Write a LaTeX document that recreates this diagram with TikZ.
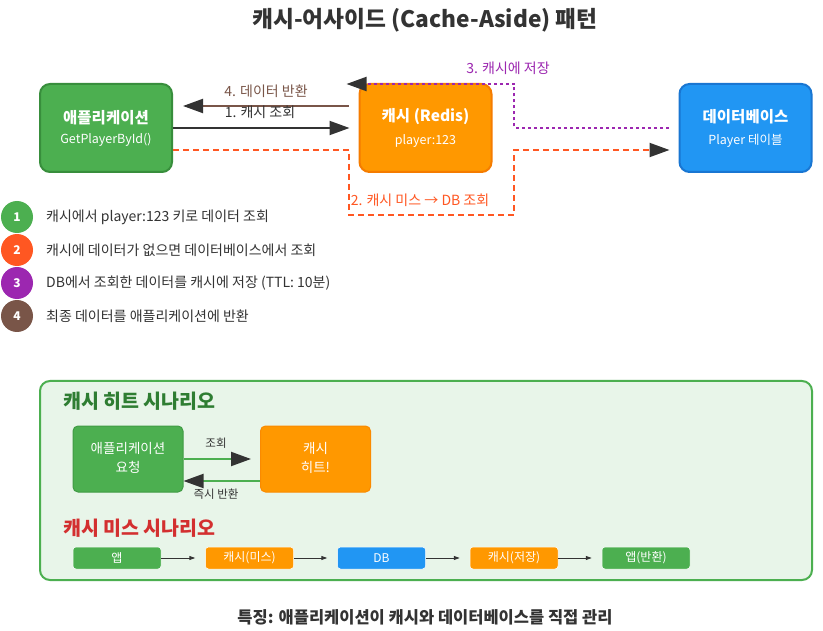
\documentclass[tikz,border=0pt]{standalone}
\usepackage{fontspec}
\setmainfont{Noto Sans CJK KR}
\usetikzlibrary{arrows.meta}
\definecolor{cgreen}{HTML}{4CAF50}
\definecolor{cgreenB}{HTML}{388E3C}
\definecolor{corange}{HTML}{FF9800}
\definecolor{corangeB}{HTML}{F57C00}
\definecolor{cblue}{HTML}{2196F3}
\definecolor{cblueB}{HTML}{1976D2}
\definecolor{cred}{HTML}{FF5722}
\definecolor{cpurple}{HTML}{9C27B0}
\definecolor{cbrown}{HTML}{795548}
\definecolor{cdark}{HTML}{333333}
\definecolor{cpanel}{HTML}{E8F5E9}
\definecolor{cpanelT}{HTML}{2E7D32}
\definecolor{cmissT}{HTML}{D32F2F}
\tikzset{
  bigbox/.style={rounded corners=10pt, line width=2pt, minimum width=132pt, minimum height=88pt, inner sep=0pt},
  hitbox/.style={rounded corners=5pt, line width=1pt, minimum width=110pt, minimum height=66pt, inner sep=0pt},
  smallbox/.style={rounded corners=3pt, draw=white, line width=0.5pt, minimum width=88pt, minimum height=22pt, inner sep=0pt, text=white, font=\fontsize{12}{14}\selectfont},
  boxtitle/.style={text=white, font=\fontsize{15.5}{18}\selectfont\bfseries, inner sep=0pt},
  boxsub/.style={text=white, font=\fontsize{12.5}{15}\selectfont, inner sep=0pt},
  hitsub/.style={text=white, font=\fontsize{13.5}{16}\selectfont, inner sep=0pt},
  lbl/.style={font=\fontsize{14}{17}\selectfont, inner sep=0pt},
  bigtip/.style={-{Triangle[length=20pt,width=14pt,color=cdark]}},
  smalltip/.style={-{Triangle[length=6pt,width=4pt,color=cdark]}},
  legcirc/.style={circle, minimum size=32pt, inner sep=0pt, text=white, font=\fontsize{12}{14}\selectfont\bfseries},
  legtext/.style={anchor=west, text=cdark, font=\fontsize{14}{17}\selectfont, inner sep=0pt},
}
\begin{document}
\begin{tikzpicture}[x=1pt,y=-1pt]
\useasboundingbox (0,0) rectangle (823,631);
\fill[white] (0,0) rectangle (823,631);
% title
\node[text=cdark, font=\fontsize{22.7}{27}\selectfont\bfseries, inner sep=0pt] (title) at (425,20) {캐시-어사이드 (Cache-Aside) 패턴};
% main boxes
\node[bigbox, fill=cgreen, draw=cgreenB] (app) at (106,128) {};
\node[boxtitle] (appT) at (106,118) {애플리케이션};
\node[boxsub] (appS) at (106,140) {GetPlayerById()};
\node[bigbox, fill=corange, draw=corangeB] (cache) at (425.5,128) {};
\node[boxtitle] (cacheT) at (425.5,117) {캐시 (Redis)};
\node[boxsub] (cacheS) at (425.5,141) {player:123};
\node[bigbox, fill=cblue, draw=cblueB] (db) at (745.5,128) {};
\node[boxtitle] (dbT) at (745.5,117) {데이터베이스};
\node[boxsub] (dbS) at (745.5,141) {Player 테이블};
% arrow 4
\draw[cbrown, line width=2pt, bigtip] ([xshift=-10pt,yshift=22pt]cache.west) -- ([xshift=10pt,yshift=22pt]app.east);
\node[lbl, text=cbrown] (l4) at (266,91) {4. 데이터 반환};
% arrow 1
\draw[cdark, line width=2pt, bigtip] (app.east) -- ([xshift=-9pt]cache.west);
\node[lbl, text=cdark] (l1) at (260,112) {1. 캐시 조회};
% arrow 2
\coordinate (m2a) at (349,215);
\coordinate (m2b) at (514,215);
\draw[cred, line width=2pt, dash pattern=on 6pt off 4pt, bigtip]
  ([yshift=-22pt]app.east) -| (m2a) -- (m2b) |- ([xshift=-9pt,yshift=-22pt]db.west);
\node[lbl, text=cred] (l2) at (420,200) {2. 캐시 미스 → DB 조회};
% arrow 3
\coordinate (m3) at (514,84);
\draw[cpurple, line width=2pt, dash pattern=on 3pt off 3pt, bigtip]
  ([xshift=-10pt]db.west) -| (m3) -- ([xshift=-12pt,yshift=44pt]cache.west);
\node[lbl, text=cpurple] (l3) at (508,68) {3. 캐시에 저장};
% legend
\node[legcirc, fill=cgreen] (c1) at (17,217) {1};
\node[legtext] (t1) at (46,217) {캐시에서 player:123 키로 데이터 조회};
\node[legcirc, fill=cred] (c2) at (17,250) {2};
\node[legtext] (t2) at (46,250) {캐시에 데이터가 없으면 데이터베이스에서 조회};
\node[legcirc, fill=cpurple] (c3) at (17,283) {3};
\node[legtext] (t3) at (46,283) {DB에서 조회한 데이터를 캐시에 저장 (TTL: 10분)};
\node[legcirc, fill=cbrown] (c4) at (17,316) {4};
\node[legtext] (t4) at (46,316) {최종 데이터를 애플리케이션에 반환};
% panel
\node[draw=cgreen, fill=cpanel, line width=2pt, rounded corners=10pt, minimum width=772pt, minimum height=199pt, inner sep=0pt] (panel) at (426,480.5) {};
\node[anchor=west, text=cpanelT, font=\fontsize{19.5}{23}\selectfont\bfseries, inner sep=0pt] (hitT) at (63,401) {캐시 히트 시나리오};
\node[hitbox, fill=cgreen, draw=cgreenB!60!cgreen] (happ) at (128,459) {};
\node[hitsub] (happT) at (128,448) {애플리케이션};
\node[hitsub] (happS) at (128,467) {요청};
\node[hitbox, fill=corange, draw=corangeB!50!corange] (hcache) at (315.5,459) {};
\node[hitsub] (hcacheT) at (315.5,448) {캐시};
\node[hitsub] (hcacheS) at (315.5,467) {히트!};
\draw[cgreen, line width=2pt, bigtip] (happ.east) -- ([xshift=-9pt]hcache.west);
\node[lbl, text=cdark, font=\fontsize{11.5}{13}\selectfont] (hl1) at (216,443) {조회};
\draw[cgreen, line width=2pt, bigtip] ([yshift=-22pt]hcache.west) -- ([yshift=-22pt]happ.east);
\node[lbl, text=cdark, font=\fontsize{11.5}{13}\selectfont] (hl2) at (216,494) {즉시 반환};
\node[anchor=west, text=cmissT, font=\fontsize{19.5}{23}\selectfont\bfseries, inner sep=0pt] (missT) at (63,528) {캐시 미스 시나리오};
\node[smallbox, fill=cgreen] (s1) at (117,558) {앱};
\node[smallbox, fill=corange] (s2) at (249.5,558) {캐시(미스)};
\node[smallbox, fill=cblue] (s3) at (381.5,558) {DB};
\node[smallbox, fill=corange] (s4) at (514,558) {캐시(저장)};
\node[smallbox, fill=cgreen] (s5) at (646,558) {앱(반환)};
\draw[cdark, line width=1pt, smalltip] (s1.east) -- ([xshift=-10pt]s2.west);
\draw[cdark, line width=1pt, smalltip] (s2.east) -- ([xshift=-10pt]s3.west);
\draw[cdark, line width=1pt, smalltip] (s3.east) -- ([xshift=-10pt]s4.west);
\draw[cdark, line width=1pt, smalltip] (s4.east) -- ([xshift=-10pt]s5.west);
% footer
\node[text=cdark, font=\fontsize{16.5}{20}\selectfont\bfseries, inner sep=0pt] (foot) at (425,617) {특징: 애플리케이션이 캐시와 데이터베이스를 직접 관리};
\end{tikzpicture}
\end{document}
